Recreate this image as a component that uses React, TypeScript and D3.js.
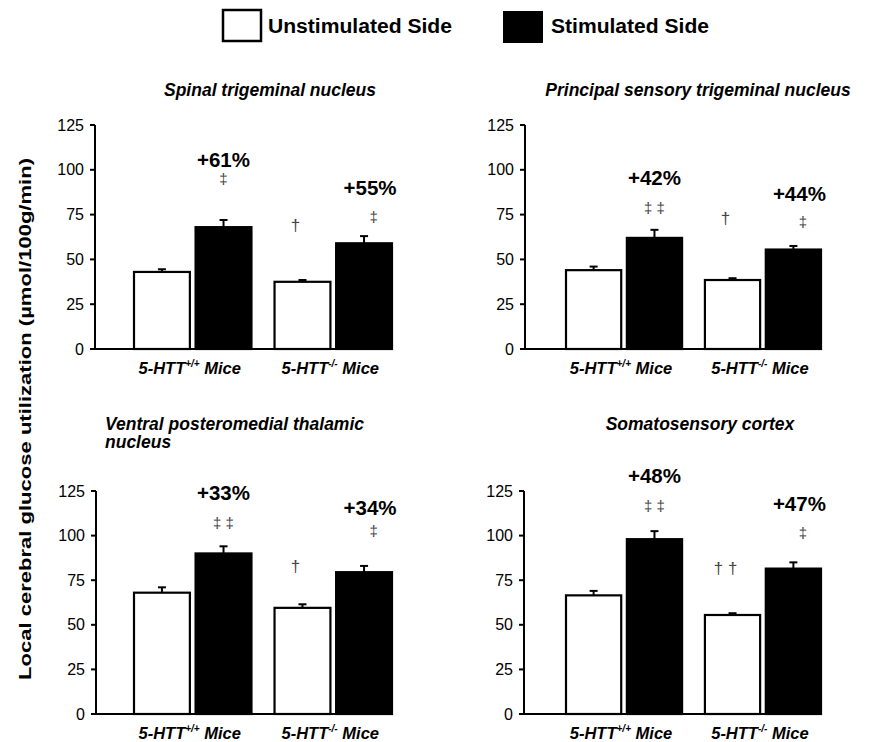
import React, { useEffect, useRef } from 'react';
import * as d3 from 'd3';

// chart values
const titles = [
  ["Spinal trigeminal nucleus"],
  ["Principal sensory trigeminal nucleus"],
  ["Ventral posteromedial thalamic", "nucleus"],
  ["Somatosensory cortex"],
];
const genotypes = ["+/+", "-/-"];
const unstim = [[43, 37.5], [44, 38.5], [68, 59.5], [66.5, 55.5]];
const unstimErr = [[44.5, 38.5], [46, 39.5], [71, 61.5], [69, 56.5]];
const stim = [[68, 59], [62, 55.5], [90, 79.5], [98, 81.5]];
const stimErr = [[72, 63], [66.5, 57.5], [94, 83], [102.5, 85]];
const pctLabels = [["+61%", "+55%"], ["+42%", "+44%"], ["+33%", "+34%"], ["+48%", "+47%"]];
const pctAt = [[105.5, 90], [95.5, 87], [124, 116], [133.5, 118]];
const stimMarks = [["‡", "‡"], ["‡ ‡", "‡"], ["‡ ‡", "‡"], ["‡ ‡", "‡"]];
const stimMarkAt = [[95, 74], [78.7, 71], [107.6, 103], [117, 102]];
const unstimMarks = [["", "†"], ["", "†"], ["", "†"], ["", "† †"]];
const unstimMarkAt = [[69, 69], [73, 73], [82.4, 82.4], [81.8, 81.8]];
const yTicks = [0, 25, 50, 75, 100, 125];

const FONT = "'Liberation Sans', Arial, Helvetica, sans-serif";

// panel frames: axis x, bar range, vertical extent, title placement
const frames = [
  { x0: 95, b0: 133, b1: 393, top: 125, bottom: 349, tx: 270, ty: 96, anchor: "middle" },
  { x0: 525, b0: 565, b1: 822, top: 125, bottom: 349, tx: 698, ty: 96, anchor: "middle" },
  { x0: 96, b0: 133, b1: 393, top: 491, bottom: 714, tx: 105, ty: 430, anchor: "start" },
  { x0: 524, b0: 565, b1: 822, top: 491, bottom: 714, tx: 700, ty: 430, anchor: "middle" },
];

export default function App() {
  const ref = useRef<SVGSVGElement>(null);

  useEffect(() => {
    const svg = d3.select(ref.current);
    svg.selectAll("*").remove();

    // legend
    const leg = svg.append("g").attr("font-family", FONT).attr("font-weight", "bold").attr("font-size", 20);
    leg.append("rect").attr("x", 223).attr("y", 10).attr("width", 38).attr("height", 31)
      .attr("fill", "#fff").attr("stroke", "#000").attr("stroke-width", 2.5);
    leg.append("text").attr("x", 268).attr("y", 33).attr("textLength", 184).attr("lengthAdjust", "spacingAndGlyphs")
      .text("Unstimulated Side");
    leg.append("rect").attr("x", 503).attr("y", 11).attr("width", 40).attr("height", 32).attr("fill", "#000");
    leg.append("text").attr("x", 551).attr("y", 33).attr("textLength", 158).attr("lengthAdjust", "spacingAndGlyphs")
      .text("Stimulated Side");

    // shared y label
    svg.append("text")
      .attr("transform", "translate(25,419) rotate(-90)")
      .attr("text-anchor", "middle").attr("dominant-baseline", "central")
      .attr("font-family", FONT).attr("font-weight", "bold").attr("font-size", 17)
      .attr("textLength", 522).attr("lengthAdjust", "spacingAndGlyphs")
      .text("Local cerebral glucose utilization (µmol/100g/min)");

    frames.forEach((f, p) => {
      const g = svg.append("g").attr("font-family", FONT);
      const y = d3.scaleLinear().domain([0, 125]).range([f.bottom, f.top]);
      const xg = d3.scaleBand().domain(genotypes).range([f.b0, f.b1]).paddingInner(0.15);
      const xs = d3.scaleBand().domain(["u", "s"]).range([0, xg.bandwidth()]).paddingInner(0.06);

      // title
      titles[p].forEach((line, i) => {
        g.append("text").attr("x", f.tx).attr("y", f.ty + i * 18)
          .attr("text-anchor", f.anchor).attr("font-weight", "bold").attr("font-style", "italic")
          .attr("font-size", 17.5).text(line);
      });

      // bars
      genotypes.forEach((gt, i) => {
        const gx = xg(gt) as number;
        const bars = [
          { k: "u", v: unstim[p][i], e: unstimErr[p][i], fill: "#fff" },
          { k: "s", v: stim[p][i], e: stimErr[p][i], fill: "#000" },
        ];
        bars.forEach(b => {
          const bx = gx + (xs(b.k) as number);
          const bw = xs.bandwidth();
          const cx = bx + bw / 2;
          g.append("line").attr("x1", cx).attr("x2", cx).attr("y1", y(b.v)).attr("y2", y(b.e))
            .attr("stroke", "#000").attr("stroke-width", 2);
          g.append("line").attr("x1", cx - 4).attr("x2", cx + 4).attr("y1", y(b.e)).attr("y2", y(b.e))
            .attr("stroke", "#000").attr("stroke-width", 2);
          g.append("rect").attr("x", bx + 1).attr("y", y(b.v)).attr("width", bw - 2).attr("height", y(0) - y(b.v))
            .attr("fill", b.fill).attr("stroke", "#000").attr("stroke-width", 2.2);
        });

        const ux = gx + (xs("u") as number) + xs.bandwidth() / 2;
        const sx = gx + (xs("s") as number) + xs.bandwidth() / 2;
        const shift = i === 1 ? 6 : 0;

        g.append("text").attr("x", sx + shift).attr("y", y(pctAt[p][i]))
          .attr("text-anchor", "middle").attr("dominant-baseline", "central")
          .attr("font-weight", "bold").attr("font-size", 20.5).text(pctLabels[p][i]);
        g.append("text").attr("x", sx + shift * 1.6).attr("y", y(stimMarkAt[p][i]))
          .attr("text-anchor", "middle").attr("dominant-baseline", "central")
          .attr("fill", "#444").attr("font-size", 15).text(stimMarks[p][i]);
        if (unstimMarks[p][i]) {
          g.append("text").attr("x", ux - 7).attr("y", y(unstimMarkAt[p][i]))
            .attr("text-anchor", "middle").attr("dominant-baseline", "central")
            .attr("fill", "#444").attr("font-size", 17).text(unstimMarks[p][i]);
        }

        // x label with superscript
        const lbl = g.append("text").attr("x", gx + xg.bandwidth() / 2 - 3).attr("y", f.bottom + 25)
          .attr("text-anchor", "middle").attr("font-weight", "bold").attr("font-style", "italic").attr("font-size", 16.5);
        lbl.append("tspan").text("5-HTT");
        lbl.append("tspan").attr("font-size", 10).attr("dy", -7).text(gt);
        lbl.append("tspan").attr("dy", 7).text(" Mice");
      });

      // axes
      g.append("line").attr("x1", f.x0).attr("x2", f.x0).attr("y1", y(125)).attr("y2", y(0))
        .attr("stroke", "#000").attr("stroke-width", 2);
      g.append("line").attr("x1", f.x0).attr("x2", f.b1).attr("y1", y(0)).attr("y2", y(0))
        .attr("stroke", "#000").attr("stroke-width", 2);
      yTicks.forEach(t => {
        g.append("line").attr("x1", f.x0 - 5).attr("x2", f.x0).attr("y1", y(t)).attr("y2", y(t))
          .attr("stroke", "#000").attr("stroke-width", 2);
        g.append("text").attr("x", f.x0 - 11).attr("y", y(t))
          .attr("text-anchor", "end").attr("dominant-baseline", "central")
          .attr("font-size", 16).text(t);
      });
    });
  }, []);

  return (
    <svg ref={ref} width={870} height={742} viewBox="0 0 870 742"
      style={{ position: "absolute", left: 0, top: 0, background: "#fff" }} />
  );
}
